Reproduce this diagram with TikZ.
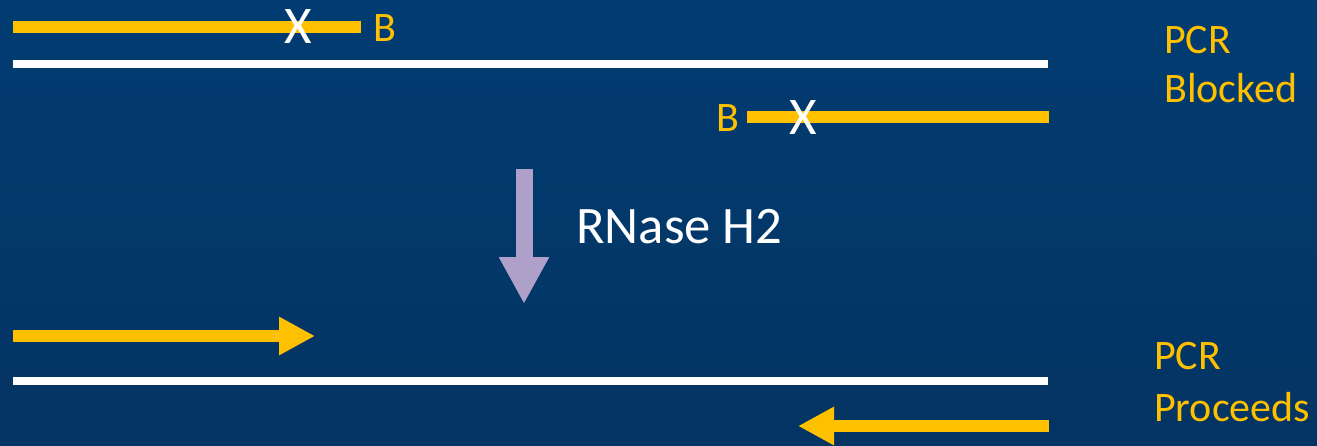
\documentclass[tikz,border=0pt]{standalone}
\usepackage{fontspec}
\setmainfont{Carlito}
\usetikzlibrary{arrows.meta}
\definecolor{bgtop}{HTML}{013C72}
\definecolor{bgbot}{HTML}{043462}
\definecolor{primer}{HTML}{FFC000}
\definecolor{enzyme}{HTML}{AEA0C8}
\tikzset{
  template/.style={draw=white, line width=8pt},
  oligo/.style={draw=primer, line width=12pt},
  extend/.style={draw=primer, line width=12pt, -{Triangle[length=36pt,width=36pt]}},
  cut/.style={text=white, font=\fontsize{53}{60}\selectfont, inner sep=0pt},
  blocker/.style={text=primer, font=\fontsize{42}{48}\selectfont, inner sep=0pt, anchor=base west},
  status/.style={text=primer, font=\fontsize{42}{48}\selectfont, inner sep=0pt, anchor=base west},
}
\begin{document}
\begin{tikzpicture}[x=1pt, y=-1pt]
  \shade[top color=bgtop, bottom color=bgbot] (0,0) rectangle (1317,445);
  \useasboundingbox (0,0) rectangle (1317,445);

  % blocked primers before cleavage
  \coordinate (p1s) at (13,27);
  \coordinate (p1e) at (361,27);
  \coordinate (p2s) at (747,117);
  \coordinate (p2e) at (1049,117);
  \draw[oligo] (p1s) -- (p1e);
  \draw[oligo] (p2s) -- (p2e);
  \node[cut] (x1) at (298,26) {X};
  \node[cut] (x2) at (803,117) {X};
  \node[blocker] (b1) at (373,41) {B};
  \node[blocker] (b2) at (716,131) {B};

  % upper template strand
  \coordinate (t1s) at (13,64);
  \coordinate (t1e) at (1048,64);
  \draw[template] (t1s) -- (t1e);

  % enzyme step
  \coordinate (es) at (524,169);
  \coordinate (ee) at (524,304);
  \draw[draw=enzyme, line width=17pt, -{Triangle[length=47pt,width=47pt]}] (es) -- (ee);
  \node[text=white, font=\fontsize{52.7}{64}\selectfont, inner sep=0pt, anchor=base west] (rn) at (576,243) {RNase H2};

  % primers after cleavage
  \coordinate (a1s) at (13,336);
  \coordinate (a1e) at (315,336);
  \coordinate (a2s) at (1049,426);
  \coordinate (a2e) at (798,426);
  \draw[extend] (a1s) -- (a1e);
  \draw[extend] (a2s) -- (a2e);

  % lower template strand
  \coordinate (t2s) at (13,381);
  \coordinate (t2e) at (1048,381);
  \draw[template] (t2s) -- (t2e);

  % outcome labels
  \node[status] (s1a) at (1164,53) {PCR};
  \node[status] (s1b) at (1164,102) {Blocked};
  \node[status] (s2a) at (1154,369) {PCR};
  \node[status] (s2b) at (1154,421) {Proceeds};
\end{tikzpicture}
\end{document}
